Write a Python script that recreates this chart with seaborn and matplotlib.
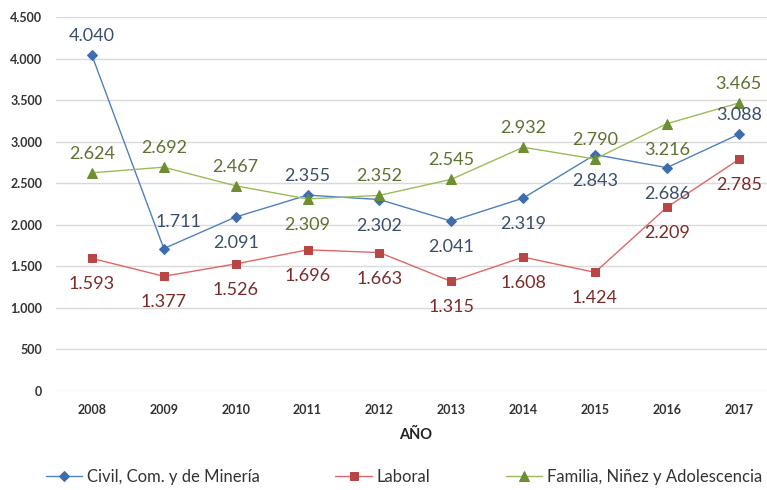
import matplotlib
matplotlib.use("Agg")
import matplotlib.pyplot as plt
import seaborn as sns
import pandas as pd
from matplotlib.ticker import FuncFormatter

years = ["2008", "2009", "2010", "2011", "2012", "2013", "2014", "2015", "2016", "2017"]
civil = [4040, 1711, 2091, 2355, 2302, 2041, 2319, 2843, 2686, 3088]
laboral = [1593, 1377, 1526, 1696, 1663, 1315, 1608, 1424, 2209, 2785]
familia = [2624, 2692, 2467, 2309, 2352, 2545, 2932, 2790, 3216, 3465]
series_names = ["Civil, Com. y de Minería", "Laboral", "Familia, Niñez y Adolescencia"]

# label placement: a = above, b = below, r = above-right
civil_pos = ["a", "r", "b", "a", "b", "b", "b", "b", "b", "a"]
laboral_pos = ["b"] * 10
familia_pos = ["a", "a", "a", "b", "a", "a", "a", "a", "b", "a"]

sns.set_theme(style="white")
plt.rcParams["font.family"] = ["Lato", "DejaVu Sans"]

fig = plt.figure(figsize=(7.67, 4.9), dpi=100)
ax = fig.add_axes([0.073, 0.203, 0.937, 0.762])

df = pd.DataFrame({
    "x": list(range(10)) * 3,
    "v": civil + laboral + familia,
    "s": [series_names[0]] * 10 + [series_names[1]] * 10 + [series_names[2]] * 10,
})

line_colors = ["#4F81BD", "#E06666", "#9BBB59"]
marker_colors = ["#3E6DAE", "#B84644", "#6F8E34"]
label_colors = ["#3B4E6B", "#7A2B2A", "#5C7230"]
markers = ["D", "s", "^"]
msizes = [5, 5.5, 7.5]
offsets = {"a": (0, 19), "b": (0, -26), "r": (15, 27)}

for i, (name, vals, pos) in enumerate(zip(series_names, [civil, laboral, familia],
                                          [civil_pos, laboral_pos, familia_pos])):
    sub = df[df["s"] == name]
    sns.lineplot(data=sub, x="x", y="v", ax=ax, color=line_colors[i], linewidth=1.0,
                 marker=markers[i], markersize=msizes[i], markerfacecolor=marker_colors[i],
                 markeredgecolor=marker_colors[i], label=name, legend=False)
    for xi, (v, p) in enumerate(zip(vals, pos)):
        ax.annotate(f"{v:,}".replace(",", "."), (xi, v), xytext=offsets[p],
                    textcoords="offset pixels",
                    ha="center", va="center", fontsize=13, color=label_colors[i])

ax.set_xlim(-0.5, 9.5)
ax.set_ylim(0, 4500)
ax.set_yticks(range(0, 4501, 500))
ax.yaxis.set_major_formatter(FuncFormatter(lambda v, p: f"{int(v):,}".replace(",", ".")))
ax.set_xticks(range(10))
ax.set_xticklabels(years)
ax.grid(axis="y", color="#D9D9D9", linewidth=1)
ax.grid(axis="x", visible=False)
for s in ["top", "right", "left", "bottom"]:
    ax.spines[s].set_visible(False)
ax.tick_params(axis="y", length=0, labelsize=9, colors="#333333", pad=10)
ax.tick_params(axis="x", length=0, labelsize=9, colors="#333333", pad=10)
for t in ax.get_xticklabels() + ax.get_yticklabels():
    t.set_fontweight("bold")
ax.set_xlabel("AÑO", fontsize=10.5, fontweight="bold", color="#222222", labelpad=8)
ax.set_ylabel("")

handles, labels = ax.get_legend_handles_labels()
fig.legend(handles, labels, loc="lower center", ncol=3, frameon=False,
           bbox_to_anchor=(0.527, -0.02), fontsize=12, columnspacing=4.5,
           handlelength=2.2, handletextpad=0.3, labelcolor="#333333")

fig.savefig("out.png", dpi=100)
